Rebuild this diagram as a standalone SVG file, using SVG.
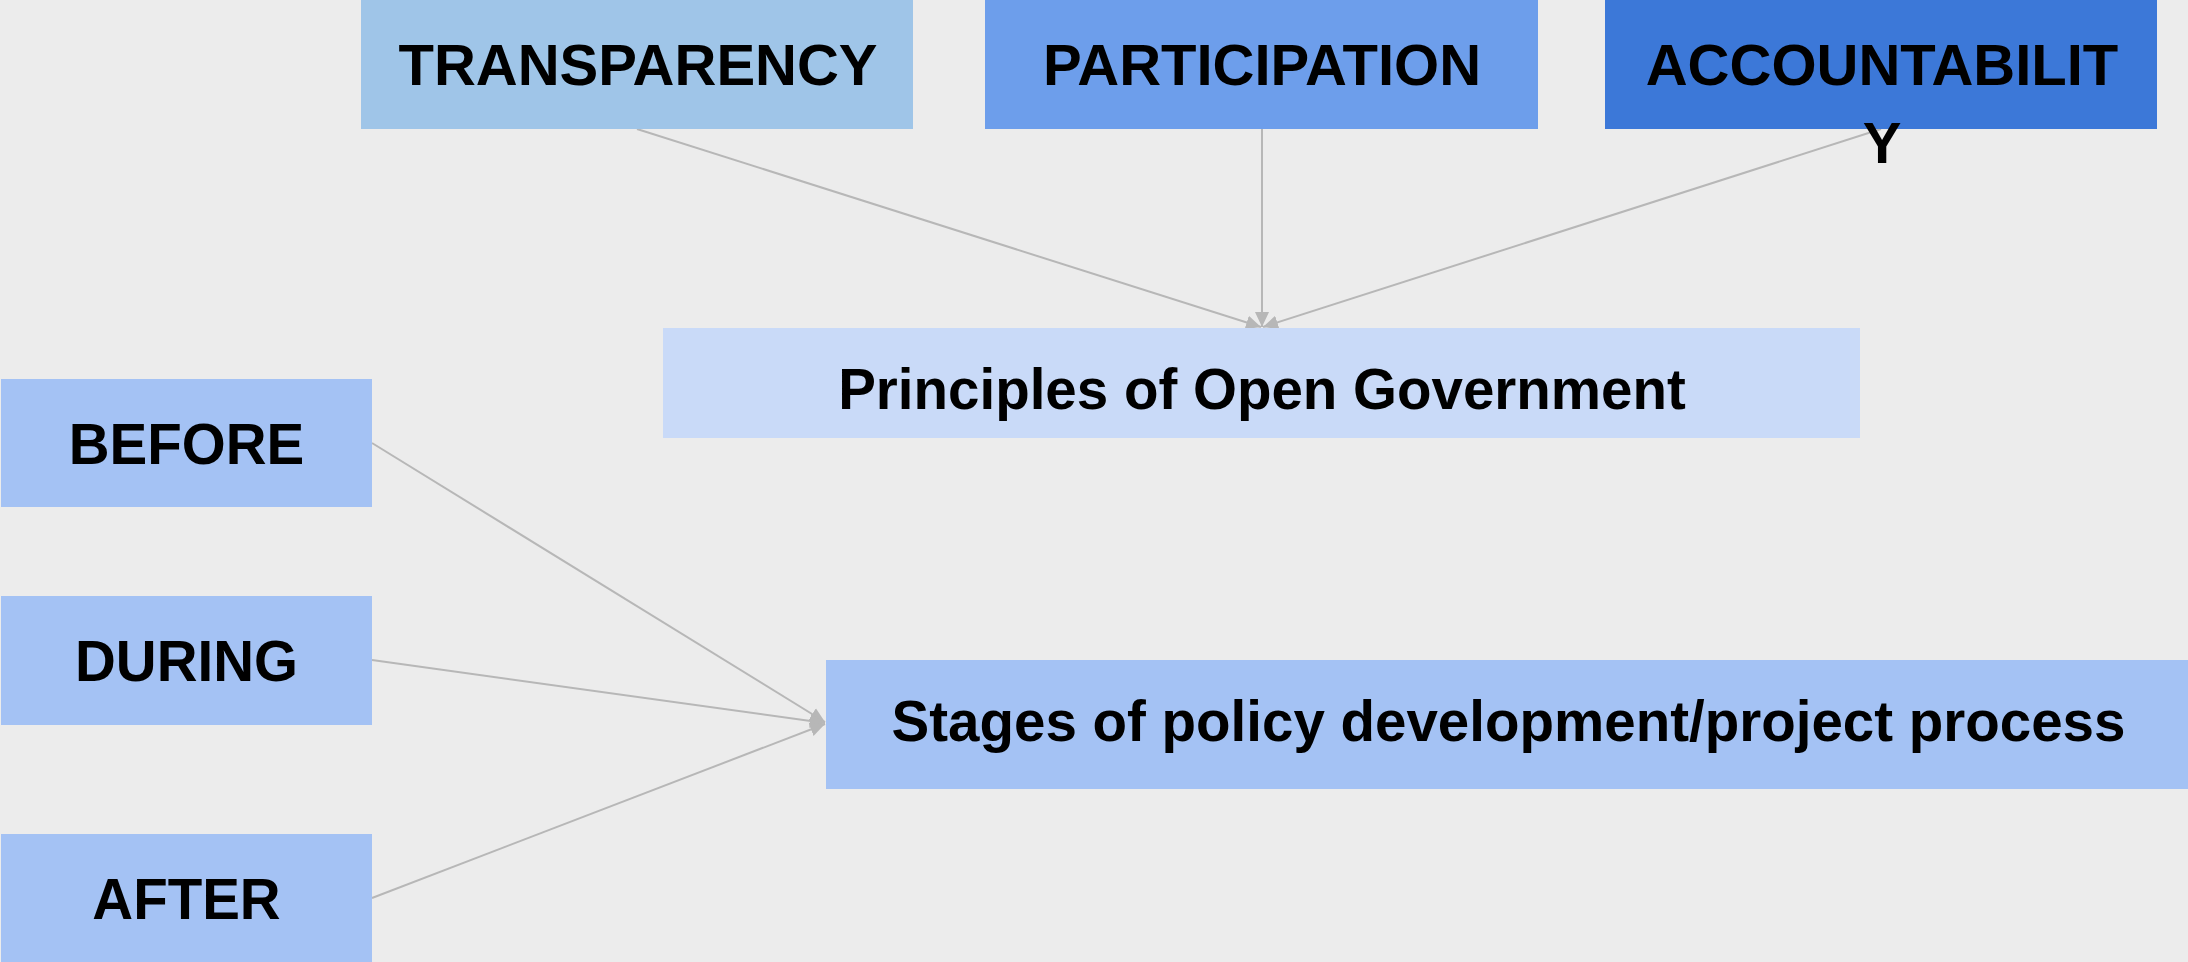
<svg xmlns="http://www.w3.org/2000/svg" width="2188" height="962" viewBox="0 0 2188 962">
<defs>
<marker id="arr" markerUnits="userSpaceOnUse" markerWidth="16" markerHeight="16" viewBox="0 0 16 16" refX="15" refY="8" orient="auto">
<path d="M0,1 L15,8 L0,15 z" fill="#b7b7b7"/>
</marker>
<style>
.t{font-family:"Liberation Sans",Arial,sans-serif;font-weight:bold;font-size:56.5px;fill:#000;text-anchor:middle}
.top{font-size:58px}
.c{stroke:#b7b7b7;stroke-width:2;fill:none;marker-end:url(#arr)}
</style>
</defs>
<rect width="2188" height="962" fill="#ececec"/>
<g id="connectors">
<line class="c" x1="637" y1="129" x2="1261" y2="327"/>
<line class="c" x1="1262" y1="129" x2="1262" y2="327"/>
<line class="c" x1="1881" y1="129" x2="1263" y2="327"/>
<line class="c" x1="372" y1="443" x2="825" y2="722"/>
<line class="c" x1="372" y1="660" x2="825" y2="723"/>
<line class="c" x1="372" y1="898" x2="825" y2="724"/>
</g>
<g id="transparency">
<rect x="361" y="0" width="552" height="129" fill="#9fc5e8"/>
<text class="t top" x="638" y="85">TRANSPARENCY</text>
</g>
<g id="participation">
<rect x="985" y="0" width="553" height="129" fill="#6d9eeb"/>
<text class="t top" x="1262" y="85">PARTICIPATION</text>
</g>
<g id="accountability">
<rect x="1605" y="0" width="552" height="129" fill="#3c78d8"/>
<text class="t top" x="1882" y="85">ACCOUNTABILIT</text>
<text class="t top" x="1882" y="163">Y</text>
</g>
<g id="principles">
<rect x="663" y="328" width="1197" height="110" fill="#c9daf8"/>
<text class="t" x="1262" y="409">Principles of Open Government</text>
</g>
<g id="before">
<rect x="1" y="379" width="371" height="128" fill="#a4c2f4"/>
<text class="t" x="186.5" y="463.5">BEFORE</text>
</g>
<g id="during">
<rect x="1" y="596" width="371" height="129" fill="#a4c2f4"/>
<text class="t" x="186.5" y="680.5">DURING</text>
</g>
<g id="after">
<rect x="1" y="834" width="371" height="128" fill="#a4c2f4"/>
<text class="t" x="186.5" y="918.5">AFTER</text>
</g>
<g id="stages">
<rect x="826" y="660" width="1362" height="129" fill="#a4c2f4"/>
<text class="t" x="1508.5" y="741">Stages of policy development/project process</text>
</g>
</svg>
